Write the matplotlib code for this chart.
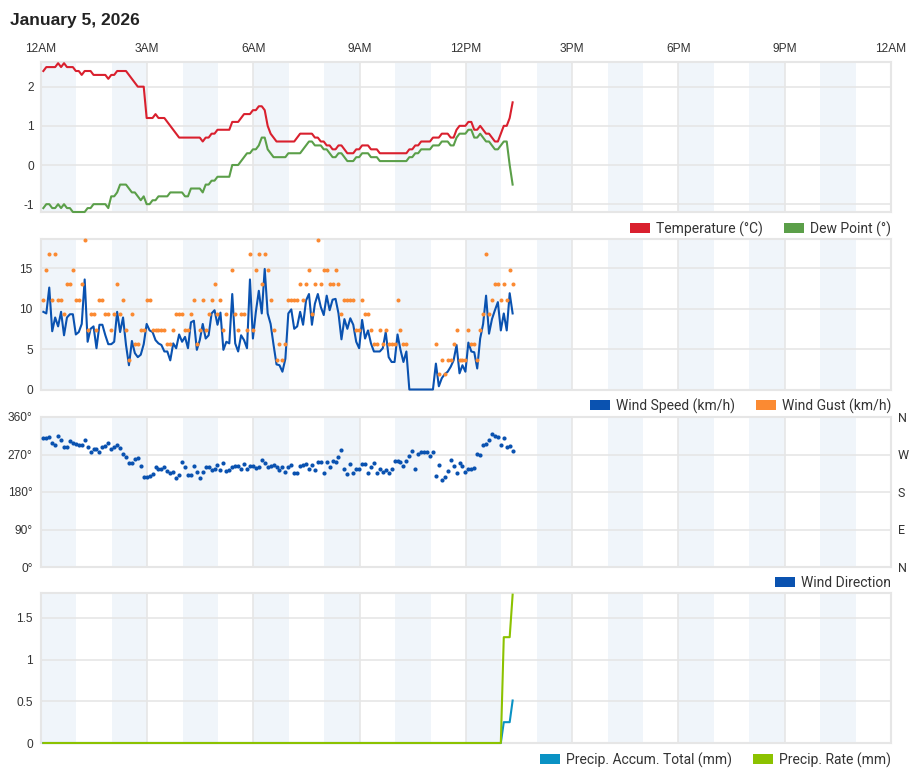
import numpy as np
import matplotlib
matplotlib.use("Agg")
import matplotlib.pyplot as plt
from matplotlib.patches import Patch

# --- readings, every 5 minutes starting 00:04 ---
temperature = [
    2.4, 2.5, 2.5, 2.5, 2.5, 2.6, 2.5, 2.6, 2.5, 2.5,
    2.5, 2.4, 2.4, 2.3, 2.4, 2.4, 2.4, 2.3, 2.3, 2.3,
    2.3, 2.3, 2.2, 2.3, 2.3, 2.4, 2.4, 2.4, 2.4, 2.3,
    2.2, 2.1, 2.0, 2.0, 2.0, 1.2, 1.2, 1.2, 1.3, 1.2,
    1.2, 1.2, 1.1, 1.0, 0.9, 0.8, 0.7, 0.7, 0.7, 0.7,
    0.7, 0.7, 0.7, 0.7, 0.6, 0.7, 0.7, 0.8, 0.8, 0.9,
    0.9, 0.9, 0.9, 0.9, 1.1, 1.1, 1.1, 1.2, 1.3, 1.3,
    1.3, 1.4, 1.4, 1.5, 1.5, 1.4, 1.0, 0.8, 0.7, 0.6,
    0.6, 0.6, 0.6, 0.6, 0.6, 0.6, 0.7, 0.8, 0.8, 0.8,
    0.8, 0.8, 0.7, 0.7, 0.6, 0.6, 0.5, 0.5, 0.4, 0.4,
    0.5, 0.5, 0.4, 0.3, 0.3, 0.3, 0.4, 0.4, 0.5, 0.5,
    0.5, 0.4, 0.4, 0.4, 0.3, 0.3, 0.3, 0.3, 0.3, 0.3,
    0.3, 0.3, 0.3, 0.3, 0.4, 0.4, 0.5, 0.5, 0.6, 0.6,
    0.6, 0.6, 0.7, 0.7, 0.7, 0.8, 0.8, 0.8, 0.7, 0.7,
    0.9, 1.0, 1.0, 1.0, 1.1, 1.1, 0.9, 0.9, 1.0, 0.9,
    0.8, 0.8, 0.7, 0.6, 0.6, 0.8, 1.0, 1.0, 1.2, 1.6,
]
dew_point = [
    -1.1, -1.0, -1.0, -1.1, -1.1, -1.0, -1.1, -1.0, -1.1, -1.1,
    -1.2, -1.2, -1.2, -1.2, -1.2, -1.1, -1.1, -1.0, -1.0, -1.0,
    -1.0, -1.0, -1.1, -0.8, -0.8, -0.7, -0.5, -0.5, -0.5, -0.6,
    -0.7, -0.7, -0.8, -0.9, -0.8, -1.0, -1.0, -0.9, -0.9, -0.8,
    -0.8, -0.8, -0.8, -0.7, -0.7, -0.7, -0.7, -0.7, -0.8, -0.8,
    -0.6, -0.6, -0.6, -0.6, -0.7, -0.5, -0.5, -0.4, -0.4, -0.3,
    -0.3, -0.3, -0.3, -0.3, 0.0, 0.0, 0.0, 0.1, 0.2, 0.3,
    0.3, 0.4, 0.4, 0.5, 0.7, 0.7, 0.4, 0.3, 0.2, 0.2,
    0.2, 0.2, 0.2, 0.3, 0.3, 0.3, 0.3, 0.3, 0.4, 0.5,
    0.6, 0.6, 0.5, 0.5, 0.5, 0.4, 0.4, 0.3, 0.2, 0.2,
    0.3, 0.3, 0.2, 0.1, 0.1, 0.1, 0.2, 0.2, 0.3, 0.3,
    0.3, 0.2, 0.2, 0.2, 0.1, 0.1, 0.1, 0.1, 0.1, 0.1,
    0.1, 0.1, 0.1, 0.1, 0.2, 0.2, 0.3, 0.3, 0.4, 0.4,
    0.4, 0.4, 0.5, 0.5, 0.5, 0.6, 0.6, 0.6, 0.5, 0.5,
    0.7, 0.8, 0.8, 0.8, 0.9, 0.9, 0.7, 0.7, 0.8, 0.7,
    0.6, 0.6, 0.5, 0.4, 0.4, 0.5, 0.6, 0.6, 0.0, -0.5,
]
wind_speed = [
    9.6, 9.4, 12.6, 7.2, 8.9, 7.8, 9.6, 6.7, 8.9, 9.3,
    9.3, 6.8, 7.1, 8.1, 13.6, 5.9, 7.5, 7.8, 5.1, 8.0,
    8.0, 6.7, 5.6, 5.6, 5.9, 9.6, 7.1, 8.9, 5.5, 3.0,
    6.0, 4.5, 4.0, 4.3, 5.6, 8.1, 7.3, 7.1, 6.1, 5.7,
    5.5, 4.7, 4.7, 3.6, 5.7, 5.1, 6.8, 5.9, 6.5, 5.1,
    8.3, 8.5, 4.9, 6.1, 8.1, 6.3, 6.7, 9.4, 9.8, 8.0,
    9.5, 4.9, 5.9, 5.7, 11.8, 5.7, 4.7, 6.7, 6.1, 5.1,
    13.6, 6.3, 9.6, 12.2, 9.4, 14.9, 9.4, 8.1, 5.5, 3.1,
    3.0, 2.2, 3.8, 9.4, 9.9, 7.5, 7.8, 9.6, 8.0, 11.0,
    11.8, 8.0, 10.6, 11.8, 10.2, 9.2, 11.6, 9.8, 11.1, 11.2,
    9.4, 6.2, 8.7, 7.5, 8.8, 8.0, 5.9, 5.1, 8.6, 6.3,
    7.3, 5.7, 4.7, 4.7, 4.7, 5.1, 7.1, 4.0, 3.4, 3.4,
    6.8, 4.9, 3.4, 4.7, 0.0, 0.0, 0.0, 0.0, 0.0, 0.0,
    0.0, 0.0, 0.0, 3.2, 0.4, 1.4, 1.9, 2.2, 2.8, 3.6,
    5.5, 2.0, 3.0, 2.2, 5.8, 4.7, 4.6, 2.6, 6.3, 8.1,
    11.6, 6.9, 8.7, 9.8, 10.8, 7.3, 9.4, 7.3, 11.9, 9.4,
]
nan = float("nan")
wind_gust = [
    11.1, 14.8, 16.7, 11.1, 16.7, 11.1, 11.1, 9.3, 13.0, 13.0,
    14.8, 11.1, 11.1, 13.0, 18.5, 7.4, 9.3, 9.3, 7.4, 11.1,
    11.1, 9.3, 9.3, 7.4, 9.3, 13.0, 9.3, 11.1, 7.4, 3.7,
    9.3, 5.6, 5.6, 7.4, 7.4, 11.1, 11.1, 7.4, 7.4, 7.4,
    7.4, 7.4, 5.6, 5.6, 7.4, 9.3, 9.3, 9.3, 7.4, 7.4,
    9.3, 11.1, 5.6, 7.4, 11.1, 7.4, 9.3, 11.1, 13.0, 9.3,
    11.1, 7.4, 9.3, nan, 14.8, 9.3, 7.4, 9.3, 9.3, 7.4,
    16.7, 7.4, 14.8, 16.7, 13.0, 16.7, 14.8, 11.1, 7.4, 3.7,
    5.6, 3.7, 5.6, 11.1, 11.1, 11.1, 11.1, 13.0, 11.1, 13.0,
    14.8, 9.3, 13.0, 18.5, 13.0, 14.8, 14.8, 13.0, 13.0, 14.8,
    13.0, 9.3, 11.1, 11.1, 11.1, 11.1, 7.4, 7.4, 11.1, 9.3,
    9.3, 7.4, 5.6, 5.6, 7.4, 5.6, 7.4, 5.6, 5.6, 5.6,
    11.1, 7.4, 5.6, 5.6, nan, nan, nan, nan, nan, nan,
    nan, nan, nan, 5.6, 1.9, 3.7, 1.9, 3.7, 3.7, 5.6,
    7.4, 3.7, 3.7, 3.7, 7.4, 5.6, 5.6, 3.7, 7.4, 9.3,
    16.7, 9.3, 11.1, 13.0, 13.0, 11.1, 13.0, 11.1, 14.8, 13.0,
]
wind_dir = [
    310, 310, 313, 298, 294, 314, 305, 287, 289, 302,
    298, 296, 294, 292, 304, 289, 275, 283, 283, 277,
    289, 290, 298, 283, 287, 292, 285, 272, 264, 250,
    250, 260, 261, 243, 217, 216, 218, 223, 241, 235,
    236, 240, 230, 225, 228, 214, 221, 252, 241, 222,
    222, 243, 227, 213, 228, 239, 239, 233, 235, 244,
    232, 250, 230, 232, 239, 242, 243, 235, 247, 236,
    242, 242, 238, 239, 258, 250, 241, 242, 246, 239,
    232, 241, 229, 241, 246, 226, 225, 243, 245, 247,
    235, 246, 234, 251, 252, 225, 252, 241, 255, 253,
    264, 281, 235, 223, 248, 225, 235, 236, 247, 248,
    226, 239, 250, 225, 236, 228, 232, 226, 235, 254,
    254, 251, 243, 254, 266, 278, 236, 272, 275, 276,
    276, 266, 277, 218, 244, 210, 215, 230, 256, 242,
    226, 250, 242, 228, 235, 235, 238, 271, 268, 294,
    295, 306, 320, 315, 312, 292, 309, 287, 291, 278,
]
precip_total = [0.0] * 156 + [0.25, 0.25, 0.25, 0.51]
precip_rate = [0.0] * 156 + [1.27, 1.27, 1.27, 1.78]

hour_labels = ["12AM", "3AM", "6AM", "9AM", "12PM", "3PM", "6PM", "9PM", "12AM"]
compass = ["N", "E", "S", "W", "N"]

hours = (4 + 5 * np.arange(len(temperature))) / 60.0

# colours
RED = "#d9202e"
GREEN = "#5b9f49"
BLUE = "#0a52b0"
ORANGE = "#fb8a32"
ACCUM = "#0a92c4"
RATE = "#8cc200"
BAND = "#f0f5fa"
GRID = "#e6e6e6"
TXT = "#333333"

fig = plt.figure(figsize=(9.11, 7.70), dpi=100)
W, H = 911, 770
left, right = 41, 891


def make_ax(top, bottom):
    return fig.add_axes([left / W, 1 - bottom / H, (right - left) / W, (bottom - top) / H])


def style(ax, ylim, yticks, ylabels):
    ax.set_xlim(0, 24)
    ax.set_ylim(*ylim)
    for h in range(0, 24, 2):
        ax.axvspan(h, h + 1, color=BAND, lw=0, zorder=0)
    ax.set_xticks(range(0, 25, 3))
    ax.set_yticks(yticks)
    ax.set_yticklabels(ylabels, family="Liberation Sans", fontsize=8.6, color=TXT)
    ax.grid(True, color=GRID, lw=1.2)
    ax.set_axisbelow(True)
    ax.tick_params(length=0, pad=6, labelbottom=False)
    for s in ax.spines.values():
        s.set_color(GRID)
        s.set_linewidth(1.5)


def legend(ax, items, off):
    handles = [Patch(facecolor=c, edgecolor="none", label=l) for l, c in items]
    ax.legend(handles=handles, loc="center right", bbox_to_anchor=(1.0, off),
              ncol=len(items), frameon=False, borderpad=0, borderaxespad=0,
              handlelength=1.45, handleheight=0.72, handletextpad=0.42,
              columnspacing=1.5, labelcolor=TXT,
              prop={"family": "Roboto", "size": 10})


LW = 1.5

# Temperature / dew point
ax1 = make_ax(62, 212)
style(ax1, (-1.2, 2.63), [-1, 0, 1, 2], ["-1", "0", "1", "2"])
ax1.xaxis.tick_top()
ax1.set_xticklabels(hour_labels, family="Liberation Sans", fontsize=8.6, color=TXT)
ax1.tick_params(labeltop=True, pad=5)
ax1.plot(hours, temperature, color=RED, lw=LW, clip_on=False, zorder=3)
ax1.plot(hours, dew_point, color=GREEN, lw=LW, clip_on=False, zorder=3)
legend(ax1, [("Temperature (°C)", RED), ("Dew Point (°)", GREEN)], -17 / 150)

# Wind speed / gust
ax2 = make_ax(239, 389.5)
style(ax2, (0, 18.6), [0, 5, 10, 15], ["0", "5", "10", "15"])
ax2.plot(hours, wind_speed, color=BLUE, lw=LW, clip_on=False, zorder=3)
ax2.plot(hours, wind_gust, "o", color=ORANGE, ms=2.9, mec="none", clip_on=False, zorder=4)
legend(ax2, [("Wind Speed (km/h)", BLUE), ("Wind Gust (km/h)", ORANGE)], -16.5 / 150.5)

# Wind direction
ax3 = make_ax(417, 567)
style(ax3, (0, 360), [0, 90, 180, 270, 360], ["0°", "90°", "180°", "270°", "360°"])
ax3.plot(hours, wind_dir, "o", color=BLUE, ms=3.0, mec="none", clip_on=False, zorder=3)
ax3r = ax3.twinx()
ax3r.set_ylim(0, 360)
ax3r.set_yticks([0, 90, 180, 270, 360])
ax3r.set_yticklabels(compass, family="Roboto", fontsize=9, color=TXT)
ax3r.tick_params(length=0, pad=5)
for s in ax3r.spines.values():
    s.set_visible(False)
legend(ax3, [("Wind Direction", BLUE)], -16 / 150)

# Precipitation
ax4 = make_ax(593, 743)
style(ax4, (0, 1.8), [0, 0.5, 1, 1.5], ["0", "0.5", "1", "1.5"])
ax4.plot(hours, precip_total, color=ACCUM, lw=LW, clip_on=False, zorder=3)
ax4.plot(hours, precip_rate, color=RATE, lw=LW, clip_on=False, zorder=3)
legend(ax4, [("Precip. Accum. Total (mm)", ACCUM), ("Precip. Rate (mm)", RATE)], -17 / 150)

fig.text(10 / W, 1 - 20 / H, "January 5, 2026", family="Liberation Sans",
         fontsize=12.5, fontweight="bold", color="#222222", va="center")

fig.savefig("out.png", dpi=100)
